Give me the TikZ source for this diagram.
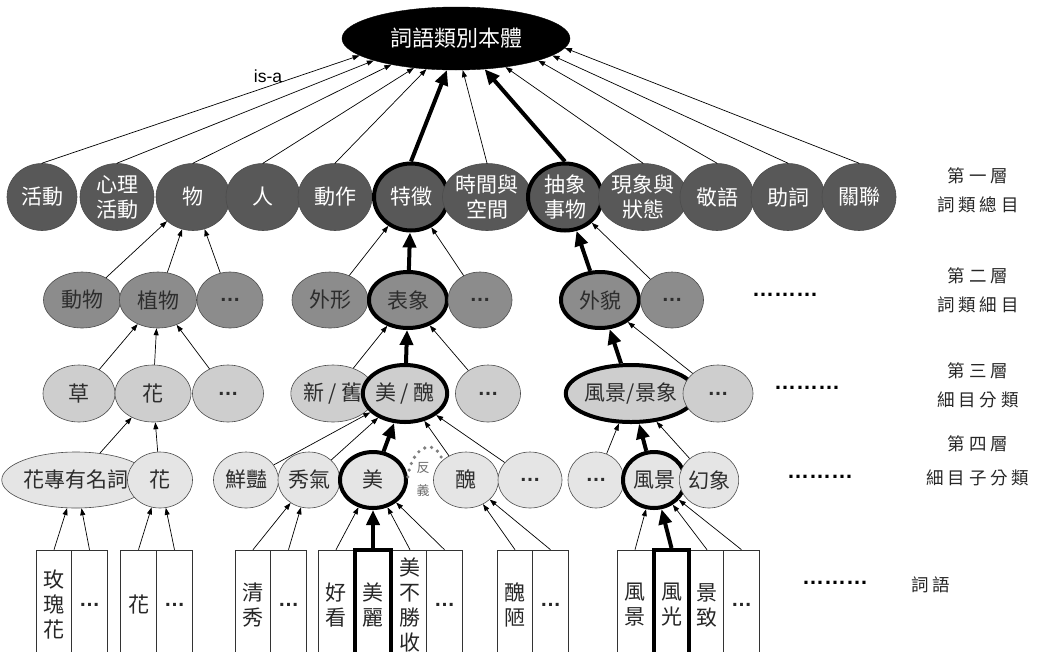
\documentclass[tikz,border=0pt]{standalone}
\usepackage{fontspec}
\setmainfont{Noto Sans CJK TC}
\newfontfamily\latinfont{Liberation Sans}
\newfontfamily\lblfont[LetterSpace=22]{Noto Sans CJK TC}
\usetikzlibrary{shapes.geometric,arrows.meta}

\definecolor{lvonegray}{RGB}{88,88,88}
\definecolor{lvtwogray}{RGB}{140,140,140}
\definecolor{lvthreegray}{RGB}{206,206,206}
\definecolor{lvfourgray}{RGB}{229,229,229}
\definecolor{textgray}{RGB}{45,45,45}

\newcommand{\mdots}{{\latinfont\bfseries …}}

\tikzset{
  nodebase/.style={ellipse, inner sep=0pt, align=center, draw=black!70,
    line width=0.6pt, text=textgray, font=\fontsize{21}{25}\selectfont},
  lvone/.style={nodebase, fill=lvonegray, text=white, minimum width=74pt, minimum height=67pt},
  lvtwo/.style={nodebase, fill=lvtwogray, minimum height=56pt},
  lvthree/.style={nodebase, fill=lvthreegray, minimum height=57pt},
  lvfour/.style={nodebase, fill=lvfourgray, minimum height=56pt},
  hilite/.style={draw=black, line width=4pt},
  wordbox/.style={rectangle, draw=black!80, line width=0.6pt, fill=white, inner sep=0pt,
    minimum width=35.5pt, minimum height=110pt, align=center, text=black!85,
    font=\fontsize{21}{25}\selectfont},
  isa/.style={draw=black, line width=0.7pt, -{Triangle[length=7pt,width=5pt]}},
  isabold/.style={draw=black, line width=4pt, -{Triangle[length=15pt,width=13pt]}},
  lvlabel/.style={align=center, text=black!85, font=\fontsize{17.5}{29}\selectfont\lblfont},
  moredots/.style={inner sep=0pt, font=\latinfont\bfseries\fontsize{22}{22}\selectfont},
  antdots/.style={draw=black!50, line width=3.6pt, line cap=round, dash pattern=on 0pt off 7pt}
}

\begin{document}
\begin{tikzpicture}[x=1pt,y=-1pt]
            \useasboundingbox (0,0) rectangle (1043,651);
            \clip (0,0) rectangle (1043,651);

            % Root of the ontology
            \node [ellipse, fill=black, draw=black, text=white, inner sep=0pt,
              minimum width=228pt, minimum height=63pt, font=\fontsize{22}{22}\selectfont]
              (root) at (456,38.5) {詞語類別本體};
            \node [font=\latinfont\fontsize{17.5}{17.5}\selectfont] (isalabel) at (268,76) {is-a};

            % Level one nodes
            \node [lvone, minimum width=70pt] (huodong) at (42,197) {活動};
            \node [lvone] (xinli) at (117,197) {心理\\活動};
            \node [lvone] (wu) at (193,197) {物};
            \node [lvone] (ren) at (263,197) {人};
            \node [lvone] (dongzuo) at (335,197) {動作};
            \node [lvone, hilite] (tezheng) at (411,197) {特徵};
            \node [lvone] (shijian) at (487,197) {時間與\\空間};
            \node [lvone, hilite] (chouxiang) at (565,197) {抽象\\事物};
            \node [lvone] (xianxiang) at (643,197) {現象與\\狀態};
            \node [lvone] (jingyu) at (717,197) {敬語};
            \node [lvone] (zhuci) at (788,197) {助詞};
            \node [lvone] (guanlian) at (859,197) {關聯};

            % Level two nodes
            \node [lvtwo, minimum width=77pt] (dongwu) at (82,300) {動物};
            \node [lvtwo, minimum width=77pt] (zhiwu) at (158,300) {植物};
            \node [lvtwo, minimum width=66pt] (ltwodotsa) at (230,300) {\mdots};
            \node [lvtwo, minimum width=76pt] (waixing) at (330,300) {外形};
            \node [lvtwo, hilite, minimum width=78pt] (biaoxiang) at (408,300) {表象};
            \node [lvtwo, minimum width=64pt] (ltwodotsb) at (480,300) {\mdots};
            \node [lvtwo, hilite, minimum width=78pt] (waimao) at (600,300) {外貌};
            \node [lvtwo, minimum width=63pt] (ltwodotsc) at (672,300) {\mdots};

            % Level three nodes
            \node [lvthree, minimum width=72pt] (cao) at (79,393.5) {草};
            \node [lvthree, minimum width=76pt] (hua) at (153,393.5) {花};
            \node [lvthree, minimum width=71pt] (lthreedotsa) at (228,393.5) {\mdots};
            \node [lvthree, minimum width=71pt] (xinjiu) at (333,393.5) {新 / 舊};
            \node [lvthree, hilite, minimum width=72pt] (meichou) at (405,393.5) {美 / 醜};
            \node [lvthree, minimum width=65pt] (lthreedotsb) at (488,393.5) {\mdots};
            \node [lvthree, hilite, minimum width=100pt] (fengjing) at (631,393.5) {風景/景象};
            \node [lvthree, minimum width=70pt] (lthreedotsc) at (718,393.5) {\mdots};

            % Level four nodes
            \node [lvfour, minimum width=105pt] (huazhuan) at (76,480) {花專有名詞};
            \node [lvfour, minimum width=65pt] (huab) at (160,480) {花};
            \node [lvfour, minimum width=65pt] (xianyan) at (246,480) {鮮豔};
            \node [lvfour, minimum width=62pt] (xiuqi) at (309,480) {秀氣};
            \node [lvfour, hilite, minimum width=66pt] (mei) at (373,480) {美};
            \node [lvfour, minimum width=65pt] (chou) at (466,480) {醜};
            \node [lvfour, minimum width=64pt] (lfourdotsa) at (530,480) {\mdots};
            \node [lvfour, minimum width=56pt] (lfourdotsb) at (596,480) {\mdots};
            \node [lvfour, hilite, minimum width=62pt] (fengjingb) at (654,480) {風景};
            \node [lvfour, minimum width=48pt] (huanxiang) at (709,480) {幻象};

            % Antonym mark between mei and chou
            \draw [antdots] (mei.5) .. controls +(4,-30) and +(-8,-24) .. (chou.140);%
            \node [align=center, text=gray!85!black, font=\fontsize{13}{23}\selectfont] (fanyi) at (423,479) {反\\義};

            % Word boxes
            \node [wordbox] (wmeigui) at (54,605) {玫\\瑰\\花};
            \node [wordbox] (wdotsa) at (89.5,605) {\mdots};
            \node [wordbox] (whua) at (138.5,605) {花};
            \node [wordbox] (wdotsb) at (174.5,605) {\mdots};
            \node [wordbox] (wqingxiu) at (253,605) {清\\秀};
            \node [wordbox] (wdotsc) at (288.5,605) {\mdots};
            \node [wordbox] (whaokan) at (336,605) {好\\看};
            \node [wordbox] (wmeibu) at (410,605) {\fontsize{21}{22.5}\selectfont 美\\不\\勝\\收};
            \node [wordbox] (wdotsd) at (444.5,605) {\mdots};
            \node [wordbox, hilite] (wmeili) at (373,605) {美\\麗};
            \node [wordbox] (wchoulou) at (515,605) {醜\\陋};
            \node [wordbox] (wdotse) at (550.5,605) {\mdots};
            \node [wordbox] (wfengjing) at (635,605) {風\\景};
            \node [wordbox] (wjingzhi) at (707,605) {景\\致};
            \node [wordbox] (wdotsf) at (741.5,605) {\mdots};
            \node [wordbox, hilite] (wfengguang) at (671.5,605) {風\\光};

            % Arrows from level one to the root
            \draw [isa] (huodong.north) -- (root.190);%
            \draw [isa] (xinli.north) -- (root.195);%
            \draw [isa] (wu.north) -- (root.202);%
            \draw [isa] (ren.north) -- (root.215);%
            \draw [isa] (dongzuo.north) -- (root.226);%
            \draw [isabold] (tezheng.north) -- (root.254);%
            \draw [isa] (shijian.north) -- (root.282);%
            \draw [isabold] (chouxiang.north) -- (root.313);%
            \draw [isa] (xianxiang.north) -- (root.330);%
            \draw [isa] (jingyu.north) -- (root.345);%
            \draw [isa] (zhuci.north) -- (root.350);%
            \draw [isa] (guanlian.north) -- (root.355);%

            % Arrows from level two to level one
            \draw [isa] (dongwu) -- (wu);%
            \draw [isa] (zhiwu) -- (wu);%
            \draw [isa] (ltwodotsa) -- (wu);%
            \draw [isa] (waixing) -- (tezheng);%
            \draw [isabold] (biaoxiang) -- (tezheng);%
            \draw [isa] (ltwodotsb) -- (tezheng);%
            \draw [isabold] (waimao) -- (chouxiang);%
            \draw [isa] (ltwodotsc) -- (chouxiang);%

            % Arrows from level three to level two
            \draw [isa] (cao) -- (zhiwu);%
            \draw [isa] (hua) -- (zhiwu);%
            \draw [isa] (lthreedotsa) -- (zhiwu);%
            \draw [isa] (xinjiu) -- (biaoxiang);%
            \draw [isabold] (meichou) -- (biaoxiang);%
            \draw [isa] (lthreedotsb) -- (biaoxiang);%
            \draw [isabold] (fengjing) -- (waimao);%
            \draw [isa] (lthreedotsc) -- (waimao);%

            % Arrows from level four to level three
            \draw [isa] (huazhuan) -- (hua);%
            \draw [isa] (huab) -- (hua);%
            \draw [isa] (xianyan) -- (meichou);%
            \draw [isa] (xiuqi) -- (meichou);%
            \draw [isabold] (mei) -- (meichou);%
            \draw [isa] (chou) -- (meichou);%
            \draw [isa] (lfourdotsa) -- (meichou);%
            \draw [isa] (lfourdotsb) -- (fengjing);%
            \draw [isabold] (fengjingb) -- (fengjing);%
            \draw [isa] (huanxiang) -- (fengjing);%

            % Arrows from words to level four
            \draw [isa] (wmeigui.north) -- (huazhuan);%
            \draw [isa] (wdotsa.north) -- (huazhuan);%
            \draw [isa] (whua.north) -- (huab);%
            \draw [isa] (wdotsb.north) -- (huab);%
            \draw [isa] (wqingxiu.north) -- (xiuqi);%
            \draw [isa] (wdotsc.north) -- (xiuqi);%
            \draw [isa] (whaokan.north) -- (mei);%
            \draw [isabold] (wmeili.north) -- (mei);%
            \draw [isa] (wmeibu.north) -- (mei);%
            \draw [isa] (wdotsd.north) -- (mei);%
            \draw [isa] (wchoulou.north) -- (chou);%
            \draw [isa] (wdotse.north) -- (chou);%
            \draw [isa] (wfengjing.north) -- (fengjingb);%
            \draw [isabold] (wfengguang.north) -- (fengjingb);%
            \draw [isa] (wjingzhi.north) -- (fengjingb);%
            \draw [isa] (wdotsf.north) -- (fengjingb);%

            % More nodes to the right
            \node [moredots] (moretwo) at (785,295) {………};
            \node [moredots] (morethree) at (807,388) {………};
            \node [moredots] (morefour) at (820,477) {………};
            \node [moredots] (morewords) at (835,583) {………};

            % Level names
            \node [lvlabel] (labone) at (978,190.5) {第一層\\詞類總目};
            \node [lvlabel] (labtwo) at (978,290) {第二層\\詞類細目};
            \node [lvlabel] (labthree) at (978,385.5) {第三層\\細目分類};
            \node [lvlabel, font=\fontsize{17.5}{34}\selectfont\lblfont] (labfour) at (978,461) {第四層\\細目子分類};
            \node [lvlabel] (labwords) at (931,585) {詞語};
\end{tikzpicture}
\end{document}
